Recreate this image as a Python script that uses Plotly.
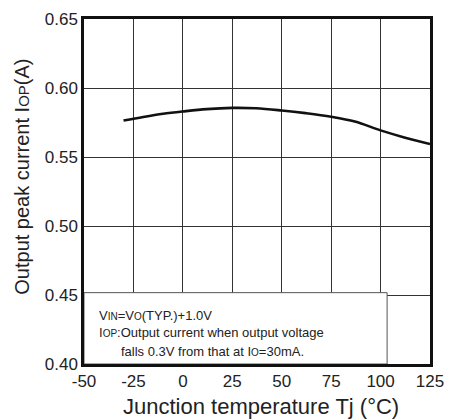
import plotly.graph_objects as go

temps = [-30, -20, -10, 0, 12, 25, 37, 50, 62, 75, 87, 100, 112, 125]
iop = [0.5764, 0.5790, 0.5813, 0.5830, 0.5847, 0.5856, 0.5853, 0.5837, 0.5818, 0.5792, 0.5757, 0.5693, 0.5642, 0.5594]

x_ticks = [-50, -25, 0, 25, 50, 75, 100, 125]
y_ticks = [0.40, 0.45, 0.50, 0.55, 0.60, 0.65]

FONT = "Liberation Sans, Arial, Helvetica, sans-serif"
SM = '<span style="font-size:10px">{}</span>'

fig = go.Figure()
fig.add_trace(go.Scatter(x=temps, y=iop, mode="lines", line=dict(color="#111111", width=2.6, shape="spline"),
                         showlegend=False, hoverinfo="skip"))

axis_common = dict(showline=True, linecolor="#111111", linewidth=2.5, mirror=True,
                   showgrid=True, gridcolor="#333333", gridwidth=1, ticks="", zeroline=False,
                   automargin=False, tickfont=dict(size=17, color="#222222", family=FONT))

fig.update_xaxes(range=[-50, 125], tickvals=x_ticks, ticktext=[str(v) for v in x_ticks], **axis_common)
fig.update_yaxes(range=[0.40, 0.65], tickvals=y_ticks, ticktext=[f"{v:.2f}" for v in y_ticks], **axis_common)

fig.add_annotation(x=0.513, y=-0.122, xref="paper", yref="paper", xanchor="center", yanchor="middle",
                   showarrow=False, text="Junction temperature Tj (°C)",
                   font=dict(size=22, color="#222222", family=FONT))
fig.add_annotation(x=-0.179, y=0.543, xref="paper", yref="paper", xanchor="center", yanchor="middle",
                   textangle=-90, showarrow=False,
                   text="Output peak current I" + '<span style="font-size:15px">OP</span>' + "(A)",
                   font=dict(size=20, color="#222222", family=FONT))

fig.add_shape(type="rect", xref="x", yref="y", x0=-50, x1=103.3, y0=0.40, y1=0.4517,
              line=dict(color="#555555", width=1), fillcolor="white", layer="above")

box_font = dict(size=13, color="#222222", family=FONT)
fig.add_annotation(x=-43.4, y=0.4355, xref="x", yref="y", xanchor="left", showarrow=False,
                   text="V" + SM.format("IN") + "=V" + SM.format("O") + "(TYP.)+1.0V", font=box_font)
fig.add_annotation(x=-43.4, y=0.4225, xref="x", yref="y", xanchor="left", showarrow=False,
                   text="I" + SM.format("OP") + ":Output current when output voltage", font=box_font)
fig.add_annotation(x=-32.3, y=0.4087, xref="x", yref="y", xanchor="left", showarrow=False,
                   text="falls 0.3V from that at I" + SM.format("O") + "=30mA.", font=box_font)

fig.update_layout(width=452, height=420, margin=dict(l=84, r=22, t=19, b=56),
                  plot_bgcolor="white", paper_bgcolor="white", font=dict(family=FONT))

fig.write_html("out.html")
